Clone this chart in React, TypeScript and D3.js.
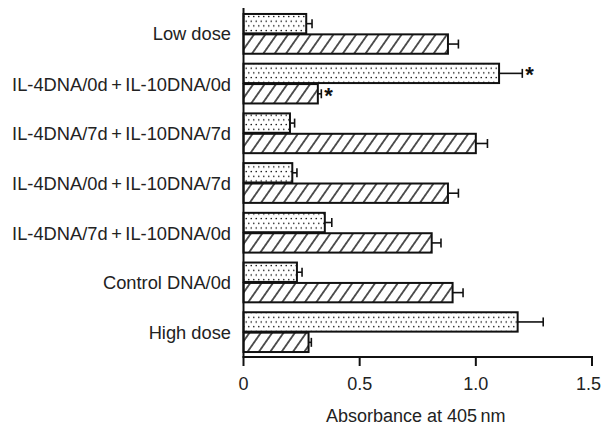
import React from "react";
import * as d3 from "d3";

const categories = [
  "Low dose",
  "IL-4DNA/0d+IL-10DNA/0d",
  "IL-4DNA/7d+IL-10DNA/7d",
  "IL-4DNA/0d+IL-10DNA/7d",
  "IL-4DNA/7d+IL-10DNA/0d",
  "Control DNA/0d",
  "High dose",
];
const dottedValues = [0.27, 1.1, 0.2, 0.21, 0.35, 0.23, 1.18];
const dottedErrors = [0.025, 0.1, 0.02, 0.02, 0.03, 0.022, 0.11];
const dottedSignificant = [false, true, false, false, false, false, false];
const hatchedValues = [0.88, 0.32, 1.0, 0.88, 0.81, 0.9, 0.28];
const hatchedErrors = [0.045, 0.015, 0.05, 0.045, 0.04, 0.045, 0.012];
const hatchedSignificant = [false, true, false, false, false, false, false];
const xTicks = [0, 0.5, 1.0, 1.5];
const xTickLabels = ["0", "0.5", "1.0", "1.5"];
const xTitle = "Absorbance at 405\u2009nm";
const seriesKeys = ["dotted", "hatched"];

const W = 602;
const H = 427;
const FONT = "'Liberation Sans', Arial, Helvetica, sans-serif";

function CategoryLabel({ text, x, y }: { text: string; x: number; y: number }) {
  const parts = text.split("+");
  return (
    <text
      x={x}
      y={y}
      textAnchor="end"
      dominantBaseline="central"
      fontSize={18.3}
      fill="#222"
    >
      {parts.length === 2 ? (
        <>
          <tspan>{parts[0]}</tspan>
          <tspan dx={3.5}>+</tspan>
          <tspan dx={3.5}>{parts[1]}</tspan>
        </>
      ) : (
        text
      )}
    </text>
  );
}

export default function App() {
  const x = d3.scaleLinear().domain([0, 1.5]).range([243.5, 592]);
  const y = d3
    .scaleBand<string>()
    .domain(categories)
    .range([9, 357])
    .paddingInner(0.2)
    .paddingOuter(0.1);
  const ySub = d3
    .scaleBand<string>()
    .domain(seriesKeys)
    .range([0, y.bandwidth()])
    .paddingInner(0.05);
  const axisY = 357;
  const x0 = x(0);

  const series = [
    { key: "dotted", values: dottedValues, errors: dottedErrors, sig: dottedSignificant, fill: "url(#dots)" },
    { key: "hatched", values: hatchedValues, errors: hatchedErrors, sig: hatchedSignificant, fill: "url(#hatch)" },
  ];

  return (
    <svg
      width={W}
      height={H}
      style={{ position: "absolute", left: 0, top: 0, background: "#fff" }}
      fontFamily={FONT}
    >
      <defs>
        <pattern id="dots" patternUnits="userSpaceOnUse" width={5} height={9.4}>
          <rect width={5} height={9.4} fill="#fff" />
          <circle cx={1.25} cy={2.35} r={0.8} fill="#111" />
          <circle cx={3.75} cy={7.05} r={0.8} fill="#111" />
        </pattern>
        <pattern
          id="hatch"
          patternUnits="userSpaceOnUse"
          width={9.3}
          height={10}
          patternTransform="rotate(35)"
        >
          <rect width={9.3} height={10} fill="#fff" />
          <line x1={4.65} y1={-1} x2={4.65} y2={11} stroke="#111" strokeWidth={1.4} />
        </pattern>
      </defs>

      {categories.map((c, i) => (
        <g key={c}>
          {series.map((s) => {
            const top = (y(c) as number) + (ySub(s.key) as number);
            const h = ySub.bandwidth();
            const xv = x(s.values[i]);
            const xe = x(s.values[i] + s.errors[i]);
            const cy = top + h / 2;
            return (
              <g key={s.key}>
                <rect
                  x={x0}
                  y={top}
                  width={xv - x0}
                  height={h}
                  fill={s.fill}
                  stroke="#111"
                  strokeWidth={2}
                />
                <line x1={xv} y1={cy} x2={xe} y2={cy} stroke="#111" strokeWidth={1.6} />
                <line x1={xe} y1={cy - 4.5} x2={xe} y2={cy + 4.5} stroke="#111" strokeWidth={1.6} />
                {s.sig[i] && (
                  <text
                    x={xe + 3}
                    y={cy + 9}
                    fontSize={22}
                    fontWeight="bold"
                    fill="#111"
                  >
                    *
                  </text>
                )}
              </g>
            );
          })}
          <CategoryLabel text={c} x={231} y={(y(c) as number) + y.bandwidth() / 2} />
        </g>
      ))}

      <line x1={x0} y1={8} x2={x0} y2={axisY} stroke="#111" strokeWidth={2} />
      <line x1={x0 - 1} y1={axisY} x2={x(1.5) + 1} y2={axisY} stroke="#111" strokeWidth={2} />
      {xTicks.map((t, i) => {
        const last = i === xTicks.length - 1;
        return (
          <g key={t}>
            <line x1={x(t)} y1={axisY} x2={x(t)} y2={axisY + 9} stroke="#111" strokeWidth={2} />
            <text
              x={last ? W - 1 : x(t)}
              y={390}
              textAnchor={last ? "end" : "middle"}
              fontSize={18}
              fill="#222"
            >
              {xTickLabels[i]}
            </text>
          </g>
        );
      })}
      <text x={(x(0) + x(1.5)) / 2 - 2} y={422} textAnchor="middle" fontSize={18} fill="#222">
        {xTitle}
      </text>
    </svg>
  );
}
